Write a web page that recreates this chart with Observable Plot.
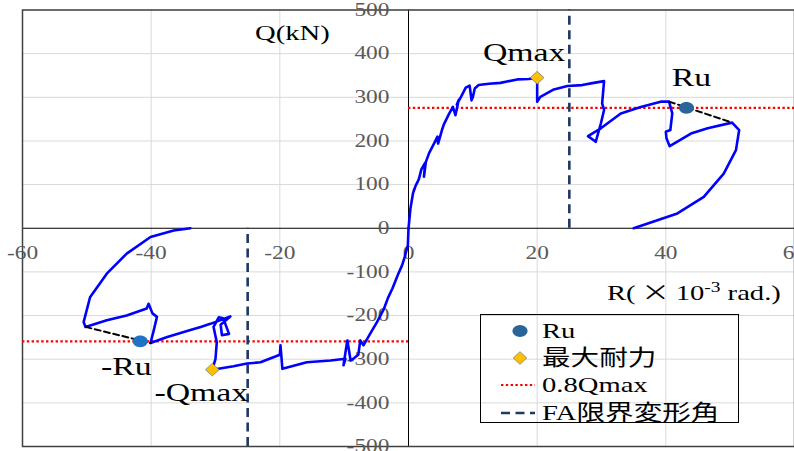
<!DOCTYPE html>
<html><head><meta charset="utf-8">
<script src="https://cdn.jsdelivr.net/npm/d3@7"></script>
<script src="https://cdn.jsdelivr.net/npm/@observablehq/plot@0.6"></script>
<style>
body{margin:0;background:#fff;}
#wrap{position:relative;width:794px;height:451px;overflow:hidden;font-family:"Liberation Serif","Noto Sans CJK JP",serif;}
.lbl{position:absolute;white-space:nowrap;color:#000;transform-origin:left top;transform:scaleX(1.3);line-height:1;}
.cjk{font-family:"Noto Sans CJK JP",sans-serif;}
#legend{position:absolute;left:480px;top:314px;width:259px;height:109px;border:1px solid #000;box-sizing:border-box;}
#legend svg{position:absolute;overflow:visible;}
</style></head><body><div id="wrap"></div>
<script>
// Positive-direction branch: R (x10^-3 rad), Q (kN)
const rPos = [0,0.3,0.7,0.9,0.8,1.1,1.6,2.0,2.6,2.4,2.7,3.2,4.0,4.5,4.6,5.2,5.5,6.3,6.9,7.3,7.8,7.5,8.2,8.9,9.5,9.8,10.0,10.3,10.9,12.5,14.3,15.3,16.9,18.7,19.5,20.0,20.0,20.5,22.6,24.7,27.0,28.8,30.4,30.1,30.4,29.9,29.1,27.9,29.9,33.0,36.1,39.2,40.5,41.0,40.7,40.0,40.1,40.6,43.9,46.5,50.3,51.4,50.9,49.0,45.9,41.8,35.0];
const qPos = [0,45,80,90,84,97,112,135,150,118,152,172,195,210,194,225,238,262,278,259,294,283,302,322,327,293,300,320,328,331,333,336,341,342,344,343,290,301,318,326,328,333,337,286,271,240,198,211,229,263,278,290,290,263,225,221,206,188,217,229,242,225,179,125,72,34,0];
// Negative-direction branch
const rNeg = [0,-0.1,-0.6,-1.0,-1.6,-2.5,-3.2,-3.8,-4.9,-5.7,-6.4,-7.0,-7.5,-7.8,-8.5,-9.0,-9.5,-9.7,-10.1,-9.8,-12.1,-15.8,-19.6,-19.9,-20.0,-20.9,-23.0,-25.1,-27.2,-30.5,-30.0,-29.8,-30.3,-29.5,-28.8,-27.9,-29.0,-29.2,-27.7,-30.8,-32.3,-33.9,-37.5,-40.1,-39.6,-39.1,-39.8,-40.4,-40.7,-43.8,-46.9,-50.2,-50.5,-49.5,-46.9,-43.8,-40.1,-36.5,-33.9];
const qNeg = [0,-39,-66,-85,-105,-138,-160,-184,-215,-235,-253,-268,-257,-290,-298,-303,-257,-275,-314,-299,-303,-307,-322,-268,-290,-295,-307,-310,-316,-324,-299,-261,-226,-204,-206,-242,-245,-221,-202,-219,-226,-233,-249,-263,-234,-203,-195,-173,-184,-200,-211,-226,-215,-158,-104,-58,-20,-5,0];

const qmaxPos = {R: 20.0, Q: 345};
const qmaxNeg = {R: -30.5, Q: -324};
const ruPos = {R: 43.2, Q: 276};
const ruNeg = {R: -41.7, Q: -259};
const ruLinePos = [{R: 40.5, Q: 290}, {R: 50.3, Q: 242}];
const ruLineNeg = [{R: -50.2, Q: -226}, {R: -40.1, Q: -263}];
const faAngle = 25;
const xTicks = [-60, -40, -20, 0, 20, 40, 60];
const yTicks = [-500, -400, -300, -200, -100, 0, 100, 200, 300, 400, 500];
const legendLabels = ["Ru", "最大耐力", "0.8Qmax", "FA限界変形角"];

const curve = [
  ...rPos.map((r, i) => ({R: r, Q: qPos[i], branch: "pos"})),
  ...rNeg.map((r, i) => ({R: r, Q: qNeg[i], branch: "neg"}))
];

const ellipseSym = {draw(ctx) {
  const rx = 7.6, ry = 5.9, k = 0.5523;
  ctx.moveTo(rx, 0);
  ctx.bezierCurveTo(rx, ry * k, rx * k, ry, 0, ry);
  ctx.bezierCurveTo(-rx * k, ry, -rx, ry * k, -rx, 0);
  ctx.bezierCurveTo(-rx, -ry * k, -rx * k, -ry, 0, -ry);
  ctx.bezierCurveTo(rx * k, -ry, rx, -ry * k, rx, 0);
  ctx.closePath();
}};
const diamondSym = {draw(ctx) {
  const w = 6.8, h = 6.3;
  ctx.moveTo(0, -h); ctx.lineTo(w, 0); ctx.lineTo(0, h); ctx.lineTo(-w, 0); ctx.closePath();
}};

const red08 = [
  {y: 0.8 * qmaxPos.Q, x1: 0, x2: 60},
  {y: 0.8 * qmaxNeg.Q, x1: -60, x2: 0}
];
const faLines = [
  {x: faAngle, y1: 0, y2: 500},
  {x: -faAngle, y1: -500, y2: 0}
];

const plot = Plot.plot({
  width: 794, height: 451,
  marginLeft: 22, marginRight: 0, marginTop: 9.5, marginBottom: 5,
  x: {domain: [-60, 60], axis: null},
  y: {domain: [-500, 500], axis: null},
  style: {background: "white", fontFamily: "'Liberation Serif', serif", overflow: "hidden"},
  marks: [
    Plot.ruleX(xTicks.filter(d => d !== 0), {stroke: "#d9d9d9", strokeWidth: 1}),
    Plot.ruleY(yTicks.filter(d => d !== 0), {stroke: "#d9d9d9", strokeWidth: 1}),
    Plot.ruleX([0], {stroke: "#000", strokeWidth: 1}),
    Plot.ruleY([0], {stroke: "#000", strokeWidth: 1}),
    Plot.frame({stroke: "#404040", strokeWidth: 1.5}),
    Plot.text(xTicks, {x: d => d, y: () => 0, text: d => String(d), dy: 24.5, fill: "#595959", fontSize: 18, textAnchor: "middle", lineAnchor: "middle"}),
    Plot.text(yTicks, {x: () => 0, y: d => d, text: d => String(d), dx: -19, fill: "#595959", fontSize: 18, textAnchor: "end", lineAnchor: "middle"}),
    Plot.ruleY(red08, {y: "y", x1: "x1", x2: "x2", stroke: "#ff0000", strokeWidth: 2.2, strokeDasharray: "2.4,2.4"}),
    Plot.ruleX(faLines, {x: "x", y1: "y1", y2: "y2", stroke: "#1f3864", strokeWidth: 2.6, strokeDasharray: "9,5.5"}),
    Plot.line(curve, {x: "R", y: "Q", z: "branch", stroke: "#0000ff", strokeWidth: 2.6, strokeLinejoin: "round", curve: "linear"}),
    Plot.line(ruLinePos, {x: "R", y: "Q", stroke: "#000", strokeWidth: 2, strokeDasharray: "6,3.5"}),
    Plot.line(ruLineNeg, {x: "R", y: "Q", stroke: "#000", strokeWidth: 2, strokeDasharray: "6,3.5"}),
    Plot.dot([ruPos], {x: "R", y: "Q", symbol: ellipseSym, fill: "#2a6599", stroke: "none"}),
    Plot.dot([ruNeg], {x: "R", y: "Q", symbol: ellipseSym, fill: "#1f72c4", stroke: "none"}),
    Plot.dot([qmaxPos, qmaxNeg], {x: "R", y: "Q", symbol: diamondSym, fill: "#ffc000", stroke: "#7f7f7f", strokeWidth: 0.8}),
    Plot.text([qmaxPos], {x: "R", y: "Q", text: () => "Qmax", dx: -13, dy: -25, fontSize: 26, fill: "#000", lineAnchor: "middle"}),
    Plot.text([ruPos], {x: "R", y: "Q", text: () => "Ru", dx: 5, dy: -30, fontSize: 26, fill: "#000", lineAnchor: "middle"}),
    Plot.text([ruNeg], {x: "R", y: "Q", text: () => "-Ru", dx: -14, dy: 25, fontSize: 26, fill: "#000", lineAnchor: "middle"}),
    Plot.text([qmaxNeg], {x: "R", y: "Q", text: () => "-Qmax", dx: -11, dy: 23, fontSize: 26, fill: "#000", lineAnchor: "middle"})
  ]
});

// horizontally stretch the text like the reference rendering (keep em-based offsets intact)
const isNum = v => v != null && v !== "" && /^-?[\d.]+(px)?$/.test(v);
d3.select(plot).selectAll("text").each(function() {
  const el = d3.select(this);
  let tx = 0, ty = 0;
  const xa = el.attr("x"), ya = el.attr("y");
  if (isNum(xa)) { tx = parseFloat(xa); el.attr("x", null); }
  if (isNum(ya)) { ty = parseFloat(ya); el.attr("y", null); }
  const t = el.attr("transform") || "";
  el.attr("transform", `${t} translate(${tx},${ty}) scale(1.3,1)`);
});

const wrap = document.getElementById("wrap");
wrap.appendChild(plot);

function addLabel(html, left, centerY, fs) {
  const d = document.createElement("div");
  d.className = "lbl";
  d.style.left = left + "px";
  d.style.top = (centerY - 0.507 * fs) + "px";
  d.style.fontSize = fs + "px";
  d.innerHTML = html;
  wrap.appendChild(d);
  return d;
}
addLabel("Q(kN)", 255, 33, 22);
addLabel('R(<span class="cjk">\u2009×\u2009</span>10<sup style="font-size:0.68em;vertical-align:0.55em;line-height:0">-3</sup> rad.)', 606.5, 290, 22);

// legend
const lg = document.createElement("div");
lg.id = "legend";
wrap.appendChild(lg);
const rowsY = [16, 42.7, 70, 97.7];
const symSvgs = [
  `<svg width="20" height="14" style="left:29px;top:${rowsY[0]-7}px"><g transform="translate(10,7)"><ellipse rx="7.6" ry="5.9" fill="#2a6599"/></g></svg>`,
  `<svg width="20" height="14" style="left:29px;top:${rowsY[1]-7}px"><g transform="translate(10,7)"><path d="M0,-6.3L6.8,0L0,6.3L-6.8,0Z" fill="#ffc000" stroke="#7f7f7f" stroke-width="0.8"/></g></svg>`,
  `<svg width="36" height="6" style="left:20px;top:${rowsY[2]-3}px"><line x1="0" x2="34" y1="3" y2="3" stroke="#ff0000" stroke-width="2.2" stroke-dasharray="2.4,2.4"/></svg>`,
  `<svg width="36" height="6" style="left:20px;top:${rowsY[3]-3}px"><line x1="0" x2="34" y1="3" y2="3" stroke="#1f3864" stroke-width="2.6" stroke-dasharray="9,5.5"/></svg>`
];
lg.innerHTML = symSvgs.join("");
legendLabels.forEach((t, i) => {
  const fs = 22;
  const d = document.createElement("div");
  d.className = "lbl";
  d.style.left = "61px";
  d.style.top = (rowsY[i] - 0.507 * fs) + "px";
  d.style.fontSize = fs + "px";
  d.textContent = t;
  lg.appendChild(d);
});
</script>
</body></html>
